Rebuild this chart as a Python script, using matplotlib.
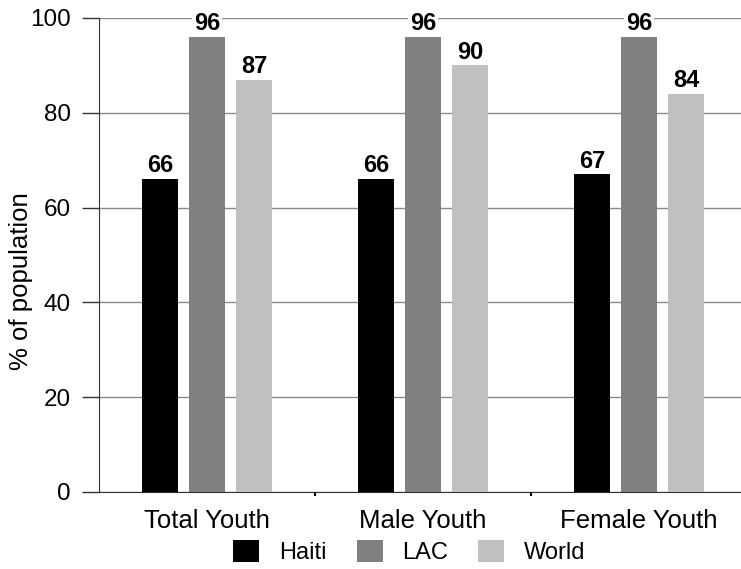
import matplotlib
matplotlib.use("Agg")
import matplotlib.pyplot as plt
import numpy as np
from matplotlib.patches import Patch

plt.rcParams['font.family'] = ['Liberation Sans', 'DejaVu Sans']

categories = ["Total Youth", "Male Youth", "Female Youth"]
series_names = ["Haiti", "LAC", "World"]
haiti = [66, 66, 67]
lac = [96, 96, 96]
world = [87, 90, 84]
colors = ["#000000", "#808080", "#c0c0c0"]
yticks = [0, 20, 40, 60, 80, 100]

fig = plt.figure(figsize=(7.41, 5.69), dpi=100)
ax = fig.add_axes([99/741, 1-492/569, 648/741, (492-18)/569])

x = np.arange(len(categories))
width = 0.17
offset = 0.218
for i, (vals, name, c) in enumerate(zip([haiti, lac, world], series_names, colors)):
    pos = x + (i - 1) * offset
    ax.bar(pos, vals, width, color=c, label=name, zorder=3)
    for xp, v in zip(pos, vals):
        ax.text(xp, v + 1.45, f"{v}", ha="center", va="baseline", fontsize=17,
                fontweight="bold", zorder=4,
                bbox=dict(facecolor="white", edgecolor="none", pad=1.0))

ax.set_xlim(-0.5, 2.5)
ax.set_ylim(0, 100)
ax.set_yticks(yticks)
ax.set_yticklabels([str(t) for t in yticks], fontsize=17.5)
ax.yaxis.grid(True, color="#8a8a8a", linewidth=1.0, zorder=0)
ax.tick_params(axis="y", length=12.2, width=1, color="#333333", pad=8)
ax.set_xticks(x)
ax.set_xticklabels(categories, fontsize=18.5)
ax.tick_params(axis="x", length=0, pad=12)
ax.set_xticks([0.5, 1.5], minor=True)
ax.tick_params(axis="x", which="minor", length=3, width=1.5, color="#000000")
for s in ["top", "right"]:
    ax.spines[s].set_visible(False)
ax.spines["left"].set_color("#333333")
ax.spines["bottom"].set_color("#333333")
fig.text(21/741, 1-281/569, "% of population", rotation=90, ha="center", va="center",
         fontsize=18.5)

handles = [Patch(facecolor=c, edgecolor="none") for c in colors]
fig.legend(handles, series_names, loc="center", bbox_to_anchor=(409.5/741, 1-552/569),
           ncol=3, frameon=False, fontsize=17, handlelength=1.1, handleheight=1.1,
           columnspacing=1.25, handletextpad=0.85, borderpad=0, borderaxespad=0)

fig.savefig("out.png", dpi=100)
